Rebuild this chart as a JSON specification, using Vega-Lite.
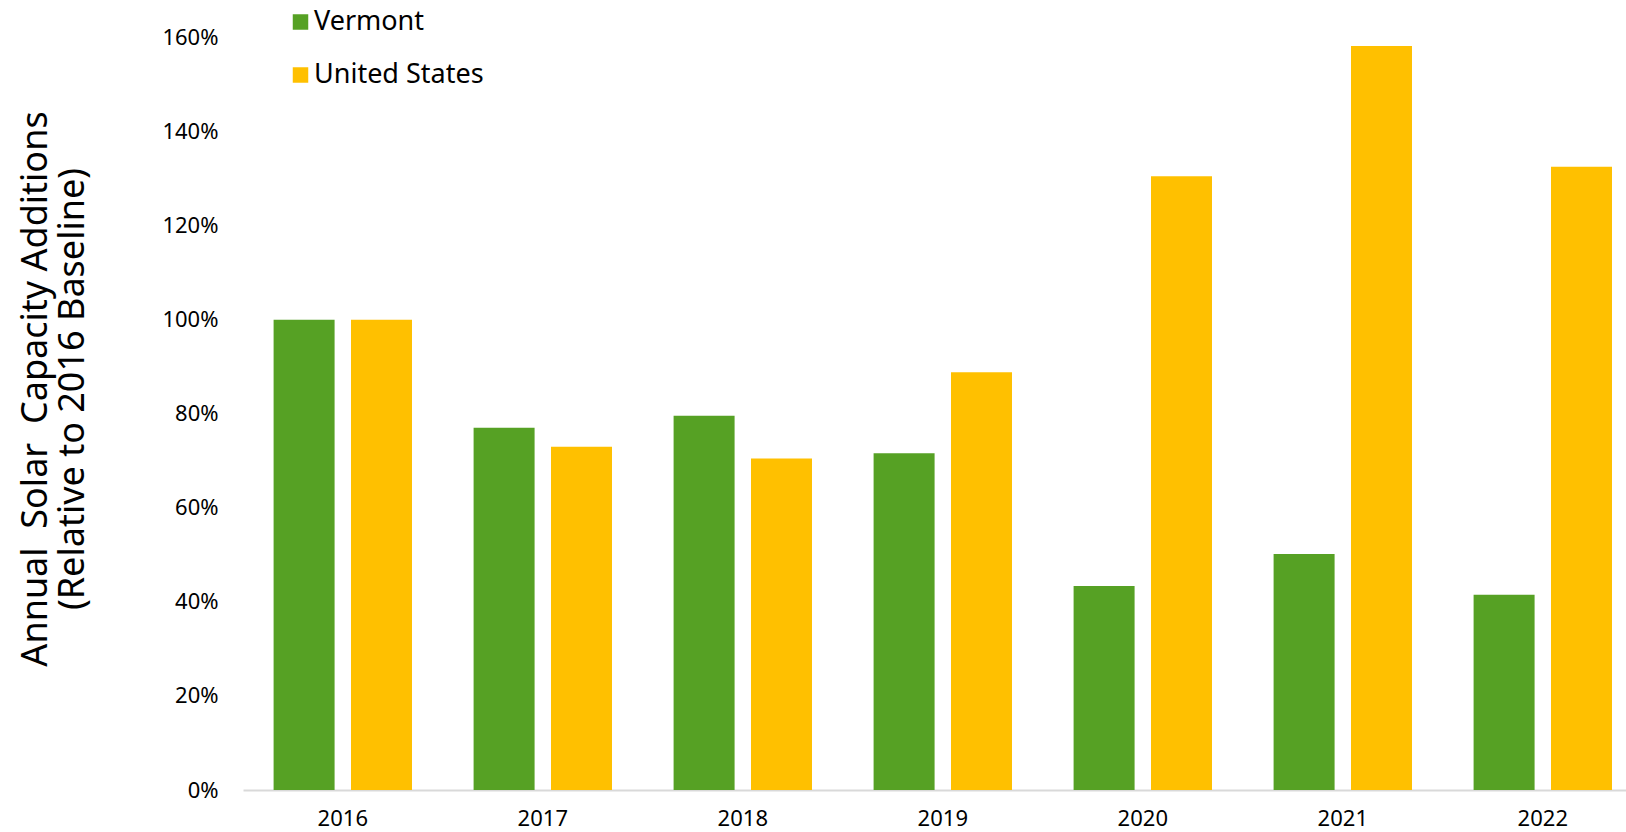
{
  "$schema": "https://vega.github.io/schema/vega-lite/v6.json",
  "width": 1383,
  "height": 752.5,
  "autosize": {"type": "none"},
  "padding": {"left": 243, "top": 37.5, "right": 0, "bottom": 42},
  "background": "white",
  "config": {"view": {"stroke": null}, "font": "Noto Sans"},
  "data": {
    "values": [
      {"year": "2016", "region": "Vermont", "value": 1.0},
      {"year": "2016", "region": "United States", "value": 1.0},
      {"year": "2017", "region": "Vermont", "value": 0.77},
      {"year": "2017", "region": "United States", "value": 0.73},
      {"year": "2018", "region": "Vermont", "value": 0.796},
      {"year": "2018", "region": "United States", "value": 0.705},
      {"year": "2019", "region": "Vermont", "value": 0.716},
      {"year": "2019", "region": "United States", "value": 0.888},
      {"year": "2020", "region": "Vermont", "value": 0.434},
      {"year": "2020", "region": "United States", "value": 1.305},
      {"year": "2021", "region": "Vermont", "value": 0.502},
      {"year": "2021", "region": "United States", "value": 1.582},
      {"year": "2022", "region": "Vermont", "value": 0.415},
      {"year": "2022", "region": "United States", "value": 1.325}
    ]
  },
  "mark": {"type": "bar"},
  "encoding": {
    "x": {
      "field": "year",
      "type": "nominal",
      "scale": {"paddingInner": 0.308, "paddingOuter": 0.1115, "align": 0.686},
      "axis": {
        "title": null,
        "labelAngle": 0,
        "ticks": false,
        "domainColor": "#d9d9d9",
        "domainWidth": 2,
        "labelFontSize": 22,
        "labelColor": "#000000",
        "labelPadding": 18,
        "labelBaseline": "top"
      }
    },
    "xOffset": {
      "field": "region",
      "type": "nominal",
      "sort": ["Vermont", "United States"],
      "scale": {"paddingInner": 0.212, "paddingOuter": 0}
    },
    "y": {
      "field": "value",
      "type": "quantitative",
      "scale": {"domain": [0, 1.6], "nice": false},
      "axis": {
        "values": [0, 0.2, 0.4, 0.6, 0.8, 1.0, 1.2, 1.4, 1.6],
        "format": ".0%",
        "grid": false,
        "domain": false,
        "ticks": false,
        "labelFontSize": 22,
        "labelColor": "#000000",
        "labelPadding": 25,
        "title": ["Annual\u00a0 Solar\u00a0 Capacity Additions", "(Relative to 2016 Baseline)"],
        "titleFontSize": 36,
        "titleFontWeight": "normal",
        "titleColor": "#000000",
        "titleAngle": -90,
        "titleAlign": "center",
        "titleBaseline": "top",
        "titleLineHeight": 37,
        "titleX": -225,
        "titleY": 351
      }
    },
    "color": {
      "field": "region",
      "type": "nominal",
      "sort": ["Vermont", "United States"],
      "scale": {"domain": ["Vermont", "United States"], "range": ["#56A124", "#FFC000"]},
      "legend": {
        "title": null,
        "orient": "none",
        "legendX": 44,
        "legendY": -29,
        "padding": 0,
        "symbolType": "square",
        "symbolSize": 240,
        "symbolStrokeWidth": 0,
        "labelFontSize": 27,
        "labelColor": "#000000",
        "labelOffset": 0,
        "rowPadding": 25,
        "labelLimit": 400
      }
    }
  }
}
